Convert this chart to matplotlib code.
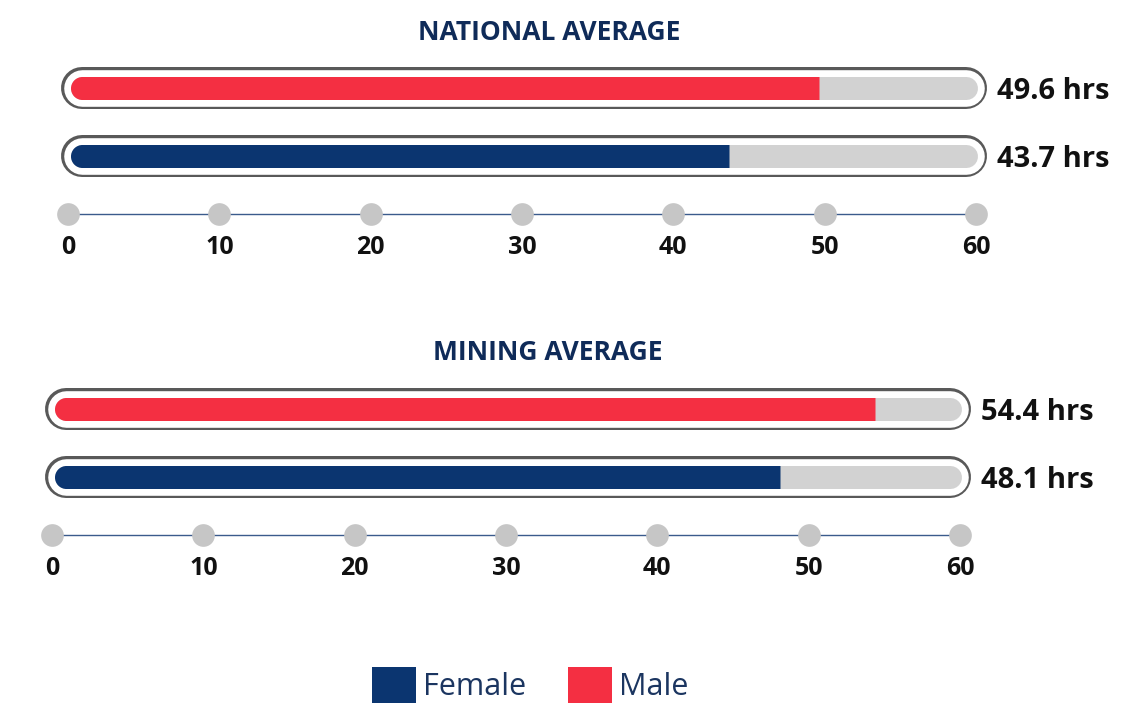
import matplotlib.pyplot as plt
from matplotlib.patches import Patch

# data
panels = ["NATIONAL AVERAGE", "MINING AVERAGE"]
genders = ["Male", "Female"]
national_hours = [49.6, 43.7]
mining_hours = [54.4, 48.1]
tick_values = [0, 10, 20, 30, 40, 50, 60]

RED = "#f42f42"
NAVY = "#0b3570"
TRACK = "#d2d2d2"
OUTLINE = "#595959"
DOT = "#c6c6c6"
colors = {"Male": RED, "Female": NAVY}

plt.rcParams['font.family'] = ['Open Sans', 'DejaVu Sans']

W, H = 1125, 705
fig = plt.figure(figsize=(W / 100, H / 100), dpi=100)

PX = 0.72  # points per pixel at dpi 100


def draw_panel(left_px, top_px, hours):
    ax = fig.add_axes([left_px / W, 1 - (top_px + 204) / H, 908 / W, 204 / H])
    ax.set_xlim(0, 60)
    ax.set_ylim(2.5, -0.5)
    ax.axis("off")

    x0, x1 = 0.95, 59.37  # capsule centreline ends
    for row, (g, v) in enumerate(zip(genders, hours)):
        ax.plot([x0, x1], [row, row], color=OUTLINE, lw=42 * PX, solid_capstyle="round", zorder=1, clip_on=False)
        ax.plot([x0, x1], [row, row], color="white", lw=36.6 * PX, solid_capstyle="round", zorder=2, clip_on=False)
        ax.plot([x0, x1], [row, row], color=TRACK, lw=23 * PX, solid_capstyle="round", zorder=3, clip_on=False)
        ax.plot([x0, v], [row, row], color=colors[g], lw=23 * PX, solid_capstyle="butt", zorder=4, clip_on=False)
        ax.plot([x0], [row], "o", color=colors[g], ms=23 * PX, mew=0, zorder=4, clip_on=False)
        ax.annotate(f"{v} hrs", xy=(60, row), xytext=(15, -2.5), textcoords="offset points",
                    ha="left", va="center", fontsize=21, fontweight="bold", color="#111111",
                    annotation_clip=False)

    axis_y = 1.855
    ax.plot([tick_values[0], tick_values[-1]], [axis_y, axis_y], color="#3b5b8c", lw=1.0, zorder=1, clip_on=False)
    ax.plot(tick_values, [axis_y] * len(tick_values), "o", color=DOT, ms=22.7 * PX, mew=0, zorder=2, clip_on=False)
    for t in tick_values:
        ax.annotate(str(t), xy=(t, axis_y), xytext=(0, -24), textcoords="offset points",
                    ha="center", va="center", fontsize=18, fontweight="bold", color="#111111",
                    annotation_clip=False)
    return ax


draw_panel(68, 54, national_hours)
draw_panel(52, 375, mining_hours)

fig.text(549 / W, 1 - 33 / H, panels[0], ha="center", va="center", fontsize=19,
         fontweight="bold", color="#0f2b59")
fig.text(548 / W, 1 - 353 / H, panels[1], ha="center", va="center", fontsize=19,
         fontweight="bold", color="#0f2b59")

handles = [Patch(facecolor=NAVY, edgecolor="none", label="Female"),
           Patch(facecolor=RED, edgecolor="none", label="Male")]
leg = fig.legend(handles=handles, loc="center", bbox_to_anchor=(530 / W, 1 - 685 / H),
                 ncol=2, frameon=False, fontsize=22, handlelength=1.45, handleheight=1.45,
                 handletextpad=0.22, columnspacing=1.35, borderpad=0)
for txt in leg.get_texts():
    txt.set_color("#1b3560")

fig.savefig("out.png", dpi=100)
